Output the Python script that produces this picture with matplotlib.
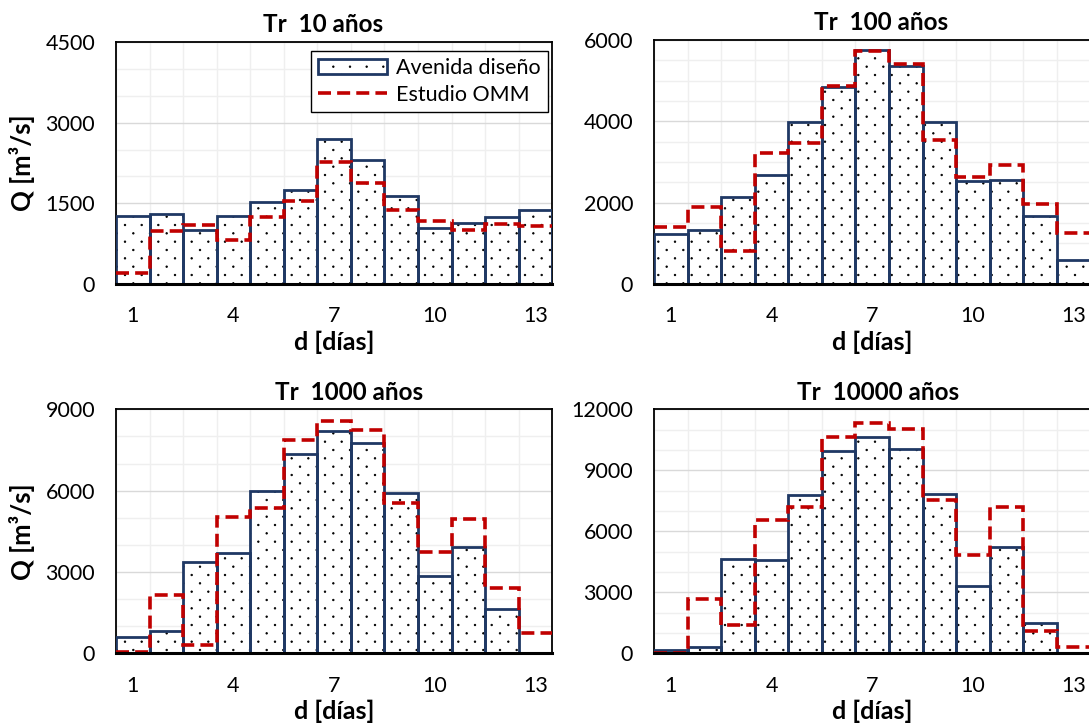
import numpy as np
import matplotlib
matplotlib.use("Agg")
import matplotlib.pyplot as plt
import matplotlib.hatch as mhatch
from matplotlib.path import Path
from matplotlib.patches import Patch
from matplotlib.lines import Line2D
from matplotlib.ticker import MultipleLocator

plt.rcParams["font.family"] = ["Lato", "DejaVu Sans"]
plt.rcParams["hatch.linewidth"] = 0.6

dias = [1, 2, 3, 4, 5, 6, 7, 8, 9, 10, 11, 12, 13]
tick_dias = [1, 4, 7, 10, 13]

titulos = ["Tr  10 años", "Tr  100 años", "Tr  1000 años", "Tr  10000 años"]

# caudal diario de la avenida de diseño (m3/s)
avenida_10 = [1270, 1300, 1000, 1270, 1530, 1750, 2700, 2310, 1630, 1040, 1130, 1240, 1370]
avenida_100 = [1230, 1330, 2140, 2690, 3990, 4840, 5750, 5370, 3990, 2540, 2560, 1660, 600]
avenida_1000 = [615, 820, 3380, 3710, 5975, 7365, 8210, 7760, 5925, 2850, 3910, 1620, 0]
avenida_10000 = [160, 300, 4620, 4590, 7790, 9970, 10650, 10030, 7820, 3330, 5210, 1510, 0]

# hidrograma del estudio OMM (m3/s)
omm_10 = [200, 985, 1090, 820, 1250, 1540, 2275, 1885, 1375, 1170, 1000, 1120, 1075]
omm_100 = [1400, 1900, 800, 3220, 3460, 4870, 5730, 5410, 3545, 2620, 2920, 1970, 1250]
omm_1000 = [30, 2150, 310, 5020, 5350, 7870, 8560, 8250, 5530, 3750, 4940, 2400, 740]
omm_10000 = [30, 2670, 1380, 6540, 7210, 10640, 11340, 11020, 7540, 4840, 7180, 1100, 330]

y_max = [4500, 6000, 9000, 12000]
y_paso = [1500, 2000, 3000, 3000]
y_menor = [500, 500, 1000, 1000]

avenidas = [avenida_10, avenida_100, avenida_1000, avenida_10000]
omms = [omm_10, omm_100, omm_1000, omm_10000]

azul = "#1F3864"
rojo = "#C00000"


class PuntosSueltos(mhatch.HatchPatternBase):
    """Trama de puntos al tresbolillo: filas cada 1/12", puntos cada 1/6" en cada fila."""

    def __init__(self, hatch, density):
        n = hatch.count(".")
        self.filas = 12 * n
        self.circulo = Path.unit_circle()
        self.centros = []
        if self.filas:
            paso = 1.0 / self.filas
            for f in range(self.filas + 1):
                if f % 2 == 0:
                    cols = np.arange(0, 1 + 1e-9, 2 * paso)
                else:
                    cols = np.arange(paso, 1, 2 * paso)
                for c in cols:
                    self.centros.append((c, f * paso))
        self.num_vertices = len(self.centros) * len(self.circulo.vertices)

    def set_vertices_and_codes(self, vertices, codes):
        forma = self.circulo.vertices * 0.0075
        partes_v = [forma + c for c in self.centros]
        partes_c = [self.circulo.codes] * len(self.centros)
        np.concatenate(partes_v, out=vertices)
        np.concatenate(partes_c, out=codes)


mhatch._hatch_types = [PuntosSueltos if t is mhatch.SmallFilledCircles else t
                       for t in mhatch._hatch_types]

fig = plt.figure(figsize=(10.89, 7.27), dpi=100)
posiciones = [
    [0.1065, 0.6094, 0.4006, 0.3329],
    [0.6006, 0.6094, 0.4006, 0.3356],
    [0.1065, 0.1014, 0.4006, 0.3356],
    [0.6006, 0.1014, 0.4006, 0.3356],
]
# el título va centrado sobre el área del gráfico, no sobre la del trazado
titulo_x = [0.475, 0.52, 0.534, 0.513]

bordes = np.arange(len(dias) + 1) + 0.5
guiones = (0, (3.6, 1.7))

for i in range(4):
    ax = fig.add_axes(posiciones[i])
    ax.set_axisbelow(True)
    # relleno punteado y contorno de las barras
    ax.bar(dias, avenidas[i], width=1.0, facecolor="white", edgecolor="black",
           hatch=".", linewidth=0, zorder=2)
    ax.bar(dias, avenidas[i], width=1.0, facecolor="none", edgecolor=azul,
           linewidth=2.0, zorder=3)
    ax.stairs(omms[i], bordes, baseline=None, color=rojo, linewidth=2.6,
              linestyle=guiones, zorder=4)

    ax.set_xlim(0.5, 13.5)
    ax.set_ylim(0, y_max[i])
    ax.set_xticks(tick_dias)
    ax.set_xticks(bordes, minor=True)
    ax.yaxis.set_major_locator(MultipleLocator(y_paso[i]))
    ax.yaxis.set_minor_locator(MultipleLocator(y_menor[i]))
    ax.grid(which="major", axis="y", color="#D9D9D9", linewidth=1.0)
    ax.grid(which="minor", color="#EFEFEF", linewidth=1.0)
    ax.tick_params(which="both", length=0)
    ax.tick_params(axis="y", labelsize=15.5, pad=15)
    ax.tick_params(axis="x", labelsize=15.5, pad=16)

    for lado in ["left", "top", "right"]:
        ax.spines[lado].set_linewidth(1.3)
        ax.spines[lado].set_color("black")
    ax.spines["bottom"].set_linewidth(2.2)
    ax.spines["bottom"].set_zorder(5)

    ax.set_title(titulos[i], fontsize=17.5, fontweight="bold", pad=7,
                 x=titulo_x[i])
    ax.set_xlabel("d [días]", fontsize=18, fontweight="bold", labelpad=3)
    if i % 2 == 0:
        ax.set_ylabel("Q [m³/s]", fontsize=18.5, fontweight="bold")
        ax.yaxis.set_label_coords(-0.186, 0.5)

    if i == 0:
        relleno = Patch(facecolor="white", edgecolor="black", hatch=".", linewidth=0)
        contorno = Patch(facecolor="none", edgecolor=azul, linewidth=2.0)
        linea = Line2D([], [], color=rojo, linewidth=2.6, linestyle=guiones)
        ax.legend([(relleno, contorno), linea], ["Avenida diseño", "Estudio OMM"],
                  loc="upper right", bbox_to_anchor=(0.99, 0.963), borderaxespad=0,
                  fontsize=15.5, handlelength=3.2, handletextpad=0.4,
                  fancybox=False, edgecolor="black", framealpha=1,
                  borderpad=0.35, labelspacing=0.3)

fig.savefig("out.png", dpi=100)
